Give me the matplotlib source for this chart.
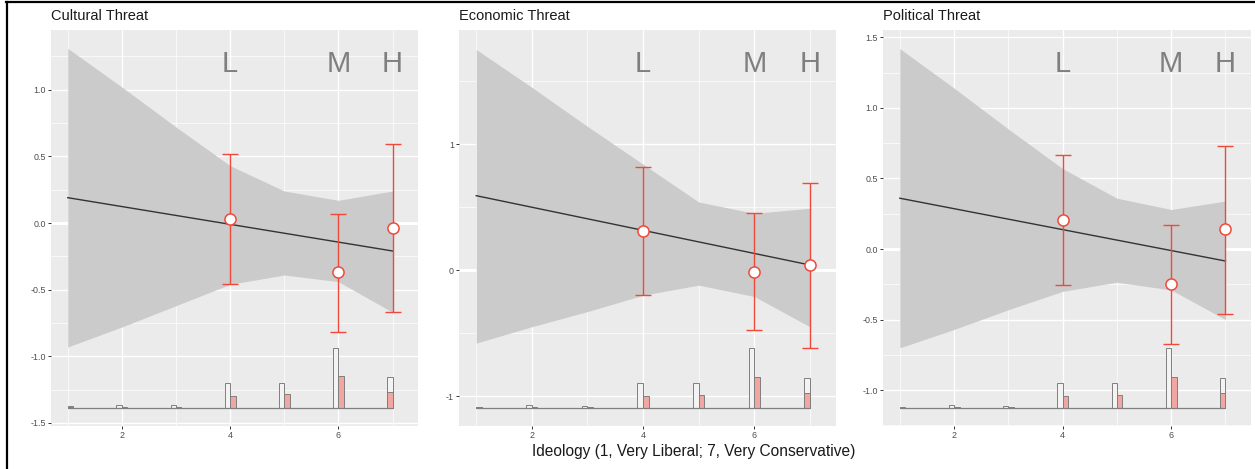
import numpy as np
import matplotlib
matplotlib.use("Agg")
import matplotlib.pyplot as plt
from matplotlib.lines import Line2D
from matplotlib.ticker import FixedLocator, FormatStrFormatter

plt.rcParams['font.family'] = ['Liberation Sans', 'DejaVu Sans']
plt.rcParams['axes.unicode_minus'] = False

# ---------------- data ----------------
ideology = [1, 2, 3, 4, 5, 6, 7]
titles = ["Cultural Threat", "Economic Threat", "Political Threat"]
x_label = "Ideology (1, Very Liberal; 7, Very Conservative)"
group_x = [4, 6, 7]
group_labels = ["L", "M", "H"]

fit_x = [1, 7]
cultural_fit = [0.19, -0.21]
economic_fit = [0.59, 0.04]
political_fit = [0.36, -0.085]

cultural_upper = [1.31, 1.02, 0.72, 0.43, 0.24, 0.17, 0.24]
cultural_lower = [-0.93, -0.78, -0.62, -0.46, -0.39, -0.44, -0.67]
economic_upper = [1.75, 1.45, 1.14, 0.84, 0.54, 0.45, 0.49]
economic_lower = [-0.58, -0.45, -0.33, -0.20, -0.12, -0.21, -0.45]
political_upper = [1.42, 1.14, 0.85, 0.57, 0.36, 0.28, 0.34]
political_lower = [-0.70, -0.57, -0.43, -0.30, -0.235, -0.29, -0.50]

cultural_est = [0.03, -0.37, -0.035]
cultural_hi = [0.52, 0.07, 0.59]
cultural_lo = [-0.46, -0.82, -0.67]
economic_est = [0.31, -0.015, 0.04]
economic_hi = [0.82, 0.45, 0.69]
economic_lo = [-0.20, -0.48, -0.62]
political_est = [0.205, -0.25, 0.14]
political_hi = [0.665, 0.17, 0.73]
political_lo = [-0.255, -0.675, -0.46]

cultural_base = -1.388
cultural_white = [-1.376, -1.366, -1.369, -1.20, -1.20, -0.935, -1.158]
cultural_pink = [-1.381, -1.378, -1.380, -1.296, -1.286, -1.15, -1.271]
economic_base = -1.098
economic_white = [-1.085, -1.074, -1.077, -0.899, -0.899, -0.619, -0.855]
economic_pink = [-1.090, -1.087, -1.089, -1.0, -0.989, -0.847, -0.974]
political_base = -1.129
political_white = [-1.118, -1.108, -1.110, -0.952, -0.952, -0.702, -0.912]
political_pink = [-1.123, -1.120, -1.122, -1.042, -1.033, -0.905, -1.018]

cultural_yticks = [-1.5, -1.0, -0.5, 0.0, 0.5, 1.0]
economic_yticks = [-1, 0, 1]
political_yticks = [-1.0, -0.5, 0.0, 0.5, 1.0, 1.5]

# ---------------- layout ----------------
W, H = 1255, 469
fig = plt.figure(figsize=(W / 100, H / 100), dpi=100)
fig.patch.set_facecolor("white")

panels = [
    dict(rect=(51, 418), ylim=(-1.523, 1.448), fit=cultural_fit, up=cultural_upper,
         lo=cultural_lower, est=cultural_est, ehi=cultural_hi, elo=cultural_lo,
         base=cultural_base, white=cultural_white, pink=cultural_pink,
         yticks=cultural_yticks, fmt="%.1f"),
    dict(rect=(459, 836), ylim=(-1.238, 1.905), fit=economic_fit, up=economic_upper,
         lo=economic_lower, est=economic_est, ehi=economic_hi, elo=economic_lo,
         base=economic_base, white=economic_white, pink=economic_pink,
         yticks=economic_yticks, fmt="%d"),
    dict(rect=(883, 1251), ylim=(-1.254, 1.552), fit=political_fit, up=political_upper,
         lo=political_lower, est=political_est, ehi=political_hi, elo=political_lo,
         base=political_base, white=political_white, pink=political_pink,
         yticks=political_yticks, fmt="%.1f"),
]

top_px, bot_px = 30, 426
red = "#F0483A"
bg = "#EBEBEB"
x = np.array(ideology, dtype=float)

for title, p in zip(titles, panels):
    l, r = p["rect"]
    ax = fig.add_axes([l / W, (H - bot_px) / H, (r - l) / W, (bot_px - top_px) / H])
    ax.set_facecolor(bg)
    ax.set_xlim(0.69, 7.47)
    ax.set_ylim(*p["ylim"])
    for s in ax.spines.values():
        s.set_visible(False)

    yt = np.array(p["yticks"], dtype=float)
    step = yt[1] - yt[0]
    ymin_minor = np.arange(yt[0] - step / 2, p["ylim"][1] + step, step)
    ax.xaxis.set_major_locator(FixedLocator([2, 4, 6]))
    ax.xaxis.set_minor_locator(FixedLocator([1, 3, 5, 7]))
    ax.yaxis.set_major_locator(FixedLocator(yt))
    ax.yaxis.set_minor_locator(FixedLocator(ymin_minor))
    ax.yaxis.set_major_formatter(FormatStrFormatter(p["fmt"]))
    ax.grid(which="major", color="white", lw=1.0)
    ax.grid(which="minor", color="white", lw=0.5)
    ax.set_axisbelow(True)
    ax.tick_params(which="major", length=2.2, width=0.7, color="#333333",
                   labelsize=6.4, labelcolor="#4D4D4D", pad=1.5)
    ax.tick_params(which="minor", length=0)

    ax.axhline(0, color="white", lw=2.2, zorder=0.5)

    # ribbon and fit line
    ax.fill_between(x, p["lo"], p["up"], color="#CBCBCB", lw=0, zorder=1)
    ax.plot(fit_x, p["fit"], color="#333333", lw=1.0, zorder=3)

    # histogram bars
    wc = np.clip(x - 0.05, 1.05, 6.95)
    pc = np.clip(x + 0.05, 1.05, 6.95)
    base = p["base"]
    ax.bar(wc, np.array(p["white"]) - base, width=0.1, bottom=base,
           color="#F3F3F3", edgecolor="#7F7F7F", lw=0.7, zorder=2)
    ax.bar(pc, np.array(p["pink"]) - base, width=0.1, bottom=base,
           color="#F2A6A4", edgecolor="#7F7F7F", lw=0.7, zorder=2.1)
    ax.hlines(base, ideology[0], ideology[-1], color="#7F7F7F", lw=0.9, zorder=2.2)

    # estimates
    est = np.array(p["est"])
    yerr = [est - np.array(p["elo"]), np.array(p["ehi"]) - est]
    ax.errorbar(group_x, est, yerr=yerr, fmt="none", ecolor=red, elinewidth=1.0,
                capsize=5.6, capthick=1.0, zorder=4)
    ax.plot(group_x, est, "o", ms=8, mfc="white", mec=red, mew=1.1, zorder=5)

    for gx, gl in zip(group_x, group_labels):
        ax.text(gx, 0.914, gl, transform=ax.get_xaxis_transform(), ha="center",
                va="center", fontsize=21, color="#7F7F7F", zorder=6)

    fig.text(l / W, 1 - 16 / H, title, ha="left", va="center", fontsize=10.5,
             color="#1A1A1A")

fig.text(694 / W, 1 - 451 / H, x_label, ha="center", va="center", fontsize=11.2,
         color="#1A1A1A")

# outer frame lines
fig.add_artist(Line2D([6 / W, 1], [1 - 2.5 / H, 1 - 2.5 / H], transform=fig.transFigure,
                      color="black", lw=1.6))
fig.add_artist(Line2D([7 / W, 7 / W], [0, 1 - 2.5 / H], transform=fig.transFigure,
                      color="black", lw=1.6))

fig.savefig("out.png", dpi=100, facecolor="white")
